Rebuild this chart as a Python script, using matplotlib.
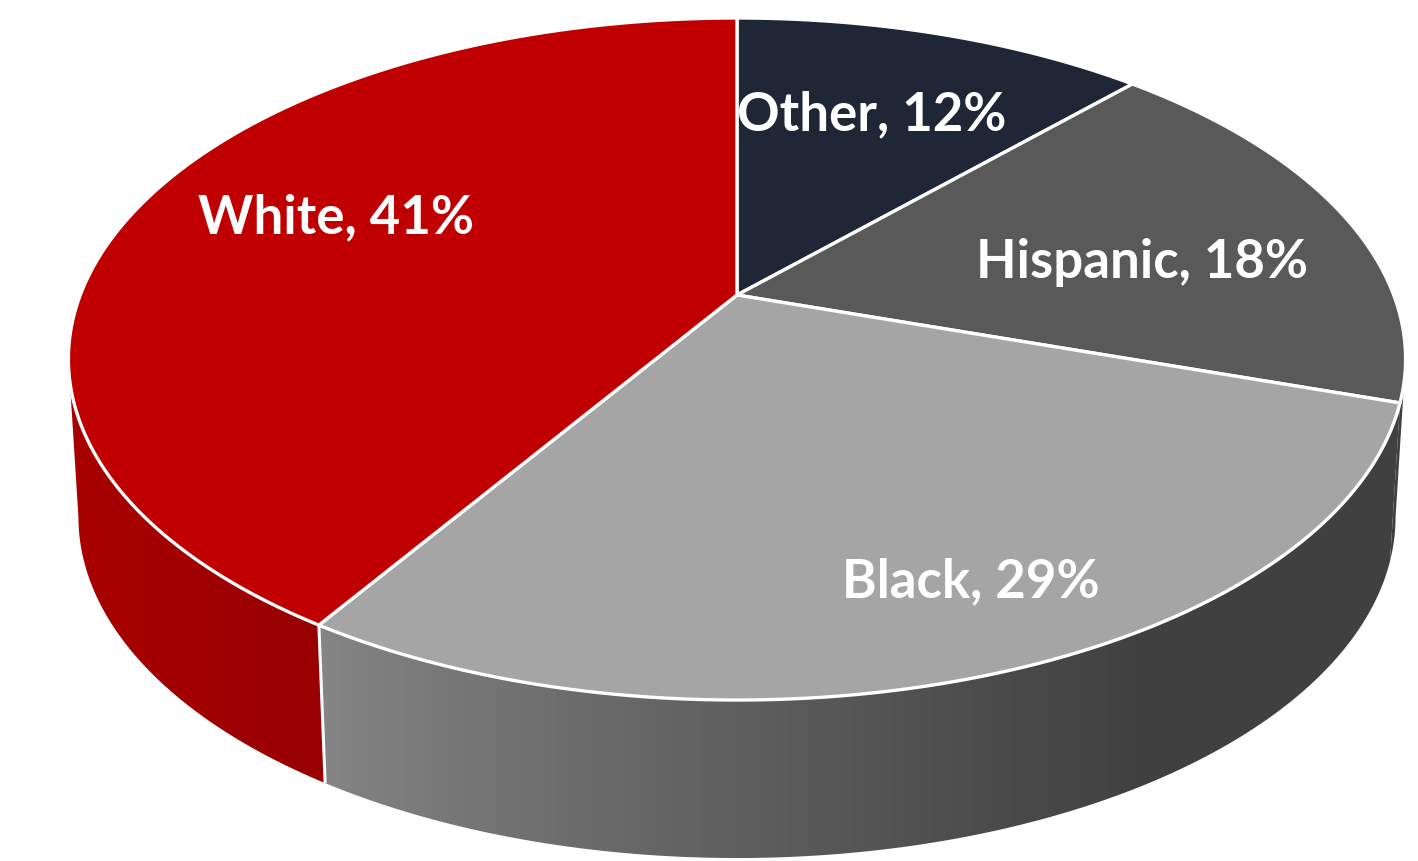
import numpy as np
import matplotlib
matplotlib.use("Agg")
import matplotlib.pyplot as plt
from matplotlib.patches import Polygon

# ---- data ----
categories = ["Other", "Hispanic", "Black", "White"]
shares = [12, 18, 29, 41]
labels = [f"{c}, {v}%" for c, v in zip(categories, shares)]

# ---- style ----
top_colors = ["#1F2736", "#595959", "#A5A5A5", "#C00000"]
label_pos = [(872, 130), (1142, 278), (971, 597), (336, 233)]  # center x, baseline y

# perspective projection parameters (pixel space)
CX, CY = 737.0, 295.0
AX, BY, G = 656.7, 329.0, 0.1877
KB, T = 0.985, 158.0
W, H = 1418, 861


def proj(theta_deg, bottom=False):
    th = np.radians(np.asarray(theta_deg, dtype=float))
    X = np.sin(th)
    Y = np.cos(th)
    den = 1 + G * Y
    u = AX * X / den
    v = BY * Y / den
    if bottom:
        return CX + KB * u, CY - v + T
    return CX + u, CY - v


xs_px = np.arange(W) + 0.5


def side_gradient(name):
    if name == "Black":
        t = np.clip((xs_px - 320) / (1150 - 320), 0, 1) ** 0.85
        g = (134 - 70 * t) / 255
        rgb = np.stack([g, g, g], axis=-1)
    elif name == "White":
        t = np.clip((xs_px - 70) / (320 - 70), 0, 1)
        r = (168 - 16 * t) / 255
        rgb = np.stack([r, 0 * r, 0 * r], axis=-1)
    elif name == "Hispanic":
        rgb = np.tile(np.array([0.25, 0.25, 0.25]), (W, 1))
    else:
        rgb = np.tile(np.array([0.08, 0.10, 0.14]), (W, 1))
    return rgb[np.newaxis, :, :]


fig = plt.figure(figsize=(14.18, 8.61), dpi=100)
ax = fig.add_axes([0, 0, 1, 1])
ax.set_xlim(0, W)
ax.set_ylim(H, 0)
ax.axis("off")

total = float(sum(shares))
bounds = np.concatenate([[0], np.cumsum(shares) / total * 360.0])

th_r = np.degrees(np.arccos(-G))
th_l = 360.0 - th_r

# side walls
for i in range(len(shares)):
    a, b = bounds[i], bounds[i + 1]
    lo, hi = max(a, th_r), min(b, th_l)
    if hi <= lo:
        continue
    ths = np.linspace(lo, hi, 400)
    xt, yt = proj(ths)
    xb, yb = proj(ths, True)
    pts = list(zip(xt, yt)) + list(zip(xb[::-1], yb[::-1]))
    poly = Polygon(pts, closed=True, facecolor="none", edgecolor="none")
    ax.add_patch(poly)
    im = ax.imshow(side_gradient(categories[i]), extent=(0, W, H, 0),
                   aspect="auto", interpolation="bilinear", zorder=1)
    im.set_clip_path(poly)

# white seams on side at slice boundaries (only where both sides show)
for bd in bounds[1:-1]:
    if th_r + 15 < bd < th_l - 15:
        xt, yt = proj(bd)
        xb, yb = proj(bd, True)
        ax.plot([xt, xb], [yt, yb], color="white", lw=2.2,
                solid_capstyle="butt", zorder=2)

# top faces
for i in range(len(shares)):
    a, b = bounds[i], bounds[i + 1]
    ths = np.linspace(a, b, 300)
    xs, ys = proj(ths)
    pts = [(CX, CY)] + list(zip(xs, ys))
    ax.add_patch(Polygon(pts, closed=True, facecolor=top_colors[i],
                         edgecolor="white", lw=2.4, joinstyle="round", zorder=3))

for lab, (lx, ly) in zip(labels, label_pos):
    ax.text(lx, ly, lab, ha="center", va="baseline", color="white",
            fontsize=38, fontweight="bold", family=["Lato", "DejaVu Sans"],
            zorder=4)

fig.savefig("out.png", dpi=100)
